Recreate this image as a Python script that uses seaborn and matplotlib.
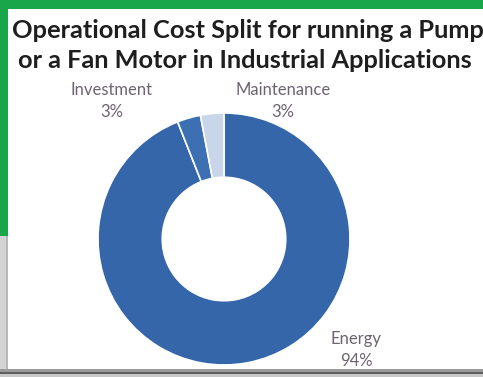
import matplotlib
matplotlib.use("Agg")
import matplotlib.pyplot as plt
from matplotlib.patches import Rectangle
import seaborn as sns

# Cost split data
categories = ["Energy", "Investment", "Maintenance"]
shares = [94, 3, 3]
colors = ["#3566a9", "#3d70b3", "#c9d5e8"]
title_lines = ["Operational Cost Split for running a Pump",
               "or a Fan Motor in Industrial Applications"]

sns.set_theme(style="white")
plt.rcParams["font.family"] = ["Lato", "DejaVu Sans"]

W, H = 483, 377
fig = plt.figure(figsize=(W / 100, H / 100), dpi=100)
fig.patch.set_facecolor("white")


def px(x, y, w, h):
    """Convert a pixel box (top-left origin) to figure fractions."""
    return (x / W, 1 - (y + h) / H, w / W, h / H)


def rect(x, y, w, h, color):
    fx, fy, fw, fh = px(x, y, w, h)
    fig.patches.append(Rectangle((fx, fy), fw, fh, transform=fig.transFigure,
                                 facecolor=color, edgecolor="none", zorder=-5))


# Frame: green band on top/left, gray edge below, white panel
green = "#19a64a"
rect(0, 0, W, 9, green)
rect(0, 0, 8, 236, green)
rect(0, 236, 8, 134, "#d4d4d4")
rect(6, 236, 2, 134, "#b8b8b8")
rect(8, 9, W - 8, 361, "white")
rect(0, 369, W, 3, "#9a9a9a")
rect(0, 372, W, 2, "#5e5e5e")
rect(0, 374, W, 3, "#c8c8c8")

# Donut chart
cx, cy, r = 224, 239, 126
ax = fig.add_axes(px(cx - r, cy - r, 2 * r, 2 * r))
ax.set_zorder(2)
wedges, _ = ax.pie(shares, colors=colors, startangle=90, counterclock=False,
                   radius=1.0,
                   wedgeprops=dict(width=0.51, edgecolor="white", linewidth=1.2))
ax.set_xlim(-1, 1)
ax.set_ylim(-1, 1)
ax.set_aspect("equal")
ax.axis("off")

# Title
fig.text(12 / W, 1 - 31 / H, title_lines[0], ha="left", va="center",
         fontsize=18.3, fontweight="bold", color="#1e1e1e")
fig.text(245 / W, 1 - 61 / H, title_lines[1], ha="center", va="center",
         fontsize=18.3, fontweight="bold", color="#1e1e1e")

# Data labels
label_pos = {"Energy": (356, 350), "Investment": (112, 101), "Maintenance": (283, 101)}
for cat, val in zip(categories, shares):
    x, y = label_pos[cat]
    fig.text(x / W, 1 - y / H, f"{cat}\n{val}%", ha="center", va="center",
             fontsize=12, color="#6e6470", linespacing=1.5)

fig.savefig("out.png", dpi=100)
